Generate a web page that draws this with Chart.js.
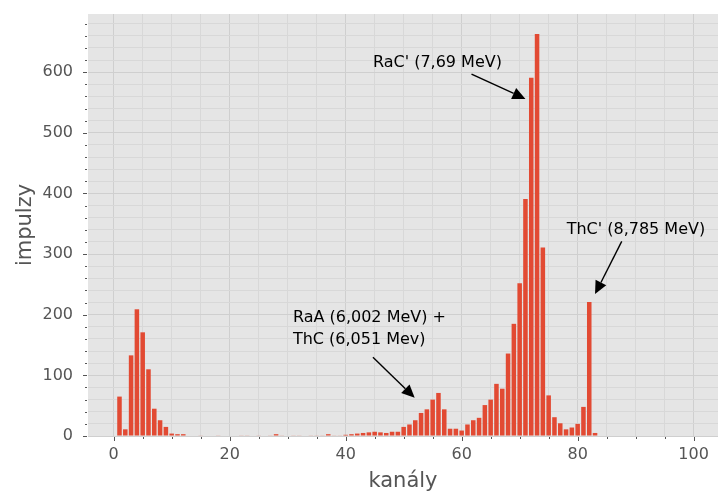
<!DOCTYPE html>
<html>
<head>
<meta charset="utf-8">
<script src="https://cdn.jsdelivr.net/npm/chart.js@4.4.1/dist/chart.umd.min.js"></script>
<style>
  html, body { margin: 0; padding: 0; background: #fff; }
  #wrap { width: 718px; height: 493px; }
</style>
</head>
<body>
<div id="wrap"><canvas id="spectrum" width="718" height="493"></canvas></div>
<script>
// counts per channel, channel 0 .. 83
const counts = [
    0, 65, 11, 133, 209, 171, 110, 45, 26, 15,
    4, 3, 3, 0, 0, 1, 0, 0, 1, 0,
    0, 0, 1, 1, 0, 1, 0, 1, 3, 1,
    0, 1, 1, 0, 1, 1, 1, 3, 1, 1,
    2, 3, 4, 5, 6, 7, 6, 5, 7, 7,
    15, 19, 26, 38, 44, 60, 71, 44, 12, 12,
    9, 19, 26, 30, 51, 60, 86, 78, 136, 185,
    252, 391, 591, 663, 311, 67, 31, 21, 11, 14,
    20, 48, 221, 5
];
const xTicks = [0, 5, 10, 15, 20, 25, 30, 35, 40, 45, 50, 55, 60, 65, 70, 75, 80, 85, 90, 95, 100];
const yTicks = [0, 20, 40, 60, 80, 100, 120, 140, 160, 180, 200, 220, 240, 260, 280, 300, 320, 340,
    360, 380, 400, 420, 440, 460, 480, 500, 520, 540, 560, 580, 600, 620, 640, 660, 680];

// annotations (data coordinates)
const annText = [["RaC' (7,69 MeV)"], ["ThC' (8,785 MeV)"], ["RaA (6,002 MeV) +", "ThC (6,051 Mev)"]];
const annTextX = [44.7, 78.1, 30.9];
const annTextY = [615, 340, 195];
const annTailX = [61.7, 87.6, 44.7];
const annTailY = [597, 321, 130];
const annTipX = [71.0, 83.0, 51.9];
const annTipY = [556, 234, 63];

const FONT = "'DejaVu Sans', sans-serif";
const GREY = '#555555';

const backdrop = {
    id: 'backdrop',
    beforeDraw(chart) {
        const a = chart.chartArea, ctx = chart.ctx;
        ctx.save();
        ctx.fillStyle = '#E5E5E5';
        ctx.fillRect(a.left, a.top, a.right - a.left, a.bottom - a.top);
        ctx.restore();
    }
};

const tickMarks = {
    id: 'tickMarks',
    afterDraw(chart) {
        const ctx = chart.ctx, a = chart.chartArea;
        const xs = chart.scales.x, ys = chart.scales.y;
        ctx.save();
        ctx.strokeStyle = GREY;
        ctx.lineWidth = 1;
        xTicks.forEach(v => {
            const p = Math.round(xs.getPixelForValue(v)) + 0.5;
            const len = v % 20 === 0 ? 4 : 2;
            ctx.beginPath();
            ctx.moveTo(p, a.bottom + 1);
            ctx.lineTo(p, a.bottom + 1 + len);
            ctx.stroke();
        });
        yTicks.forEach(v => {
            const p = Math.round(ys.getPixelForValue(v)) + 0.5;
            const len = v % 100 === 0 ? 4 : 2;
            ctx.beginPath();
            ctx.moveTo(a.left - 1, p);
            ctx.lineTo(a.left - 1 - len, p);
            ctx.stroke();
        });
        ctx.restore();
    }
};

const arrows = {
    id: 'arrows',
    afterDraw(chart) {
        const ctx = chart.ctx;
        const xs = chart.scales.x, ys = chart.scales.y;
        ctx.save();
        ctx.fillStyle = '#000';
        ctx.strokeStyle = '#000';
        ctx.font = '16px ' + FONT;
        ctx.textBaseline = 'middle';
        ctx.textAlign = 'left';
        annText.forEach((lines, i) => {
            const tx = xs.getPixelForValue(annTextX[i]);
            const ty = ys.getPixelForValue(annTextY[i]);
            lines.forEach((t, j) => ctx.fillText(t, tx, ty + j * 21.6));

            const x0 = xs.getPixelForValue(annTailX[i]), y0 = ys.getPixelForValue(annTailY[i]);
            const x1 = xs.getPixelForValue(annTipX[i]), y1 = ys.getPixelForValue(annTipY[i]);
            const ang = Math.atan2(y1 - y0, x1 - x0);
            const hl = 13, hw = 6;
            const bx = x1 - hl * Math.cos(ang), by = y1 - hl * Math.sin(ang);
            ctx.lineWidth = 1.4;
            ctx.beginPath();
            ctx.moveTo(x0, y0);
            ctx.lineTo(bx, by);
            ctx.stroke();
            ctx.beginPath();
            ctx.moveTo(x1, y1);
            ctx.lineTo(bx + hw * Math.sin(ang), by - hw * Math.cos(ang));
            ctx.lineTo(bx - hw * Math.sin(ang), by + hw * Math.cos(ang));
            ctx.closePath();
            ctx.fill();
        });
        ctx.restore();
    }
};

new Chart(document.getElementById('spectrum'), {
    type: 'bar',
    data: {
        datasets: [{
            data: counts.map((v, i) => ({ x: i, y: v })),
            backgroundColor: '#E24A33',
            borderWidth: 0,
            barPercentage: 0.78,
            categoryPercentage: 1.0
        }]
    },
    options: {
        responsive: false,
        animation: false,
        layout: { padding: { top: 14, right: 0, left: 0, bottom: 0 } },
        plugins: { legend: { display: false }, tooltip: { enabled: false } },
        scales: {
            x: {
                type: 'linear',
                offset: false,
                min: -4.43,
                max: 104.2,
                afterBuildTicks: s => { s.ticks = xTicks.map(v => ({ value: v })); },
                afterFit: s => { s.height = 57; s.paddingLeft = 0; s.paddingRight = 0; },
                border: { display: false },
                grid: {
                    offset: false,
                    color: c => c.tick && c.tick.value % 20 === 0 ? '#CFCFCF' : '#D8D8D8',
                    lineWidth: 1,
                    tickLength: 5,
                    tickColor: 'rgba(0,0,0,0)'
                },
                ticks: {
                    padding: 4,
                    maxRotation: 0,
                    autoSkip: false,
                    color: GREY,
                    font: { family: FONT, size: 16 },
                    callback: v => (v % 20 === 0 ? String(v) : '')
                },
                title: {
                    display: true,
                    text: 'kanály',
                    color: GREY,
                    font: { family: FONT, size: 21 },
                    padding: { top: 0, bottom: -1 }
                }
            },
            y: {
                min: 0,
                max: 696,
                afterBuildTicks: s => { s.ticks = yTicks.map(v => ({ value: v })); },
                afterFit: s => { s.width = 88; s.paddingTop = 0; s.paddingBottom = 0; },
                border: { display: false },
                grid: {
                    color: c => c.tick && c.tick.value % 100 === 0 ? '#CFCFCF' : '#D8D8D8',
                    lineWidth: 1,
                    tickLength: 5,
                    tickColor: 'rgba(0,0,0,0)'
                },
                ticks: {
                    padding: 10,
                    autoSkip: false,
                    color: GREY,
                    font: { family: FONT, size: 16 },
                    callback: v => (v % 100 === 0 ? String(v) : '')
                },
                title: {
                    display: true,
                    text: 'impulzy',
                    color: GREY,
                    font: { family: FONT, size: 21 },
                    padding: { top: 13, bottom: 0 }
                }
            }
        }
    },
    plugins: [backdrop, tickMarks, arrows]
});
</script>
</body>
</html>
